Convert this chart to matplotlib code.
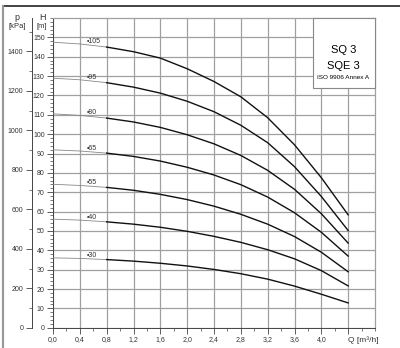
import numpy as np
import matplotlib
matplotlib.use("Agg")
import matplotlib.pyplot as plt
from matplotlib.ticker import MultipleLocator, FixedLocator, FixedFormatter

plt.rcParams['font.family'] = ['Liberation Sans', 'DejaVu Sans']

# flow rate Q [m3/h]
q = [0.0, 0.4, 0.8, 1.2, 1.6, 2.0, 2.4, 2.8, 3.2, 3.6, 4.0, 4.4]

# head H [m], one curve per label
h_105 = [147.5, 146.6, 145.0, 142.6, 139.3, 133.8, 127.2, 119.3, 108.5, 94.5, 77.5, 58.3]
h_95 = [128.9, 128.1, 126.6, 124.3, 121.2, 117.0, 111.6, 104.6, 95.6, 83.2, 67.8, 50.2]
h_80 = [110.5, 109.7, 108.3, 106.3, 103.5, 99.7, 95.0, 89.0, 81.3, 71.5, 58.9, 43.7]
h_65 = [91.9, 91.3, 90.2, 88.5, 86.1, 82.9, 78.9, 73.9, 67.5, 59.4, 49.3, 37.0]
h_55 = [74.1, 73.5, 72.5, 71.0, 68.9, 66.2, 62.8, 58.6, 53.5, 47.1, 39.0, 28.9]
h_40 = [56.1, 55.6, 54.7, 53.5, 51.9, 49.8, 47.2, 44.1, 40.3, 35.6, 29.5, 21.6]
h_30 = [36.1, 35.8, 35.2, 34.4, 33.3, 31.9, 30.1, 27.9, 25.1, 21.5, 17.3, 12.8]

curve_labels = ['105', '95', '80', '65', '55', '40', '30']
curves = [h_105, h_95, h_80, h_65, h_55, h_40, h_30]

x_tick_labels = ['0,0', '0,4', '0,8', '1,2', '1,6', '2,0', '2,4', '2,8',
                 '3,2', '3,6', '4,0', 'Q [m³/h]']

fig = plt.figure(figsize=(4.0, 3.48), dpi=100)
ax = fig.add_axes([0.1325, 0.0583, 0.805, 0.8899])

grid_c = '#a0a0a0'
text_c = '#333333'

ax.set_xlim(0, 4.8)
ax.set_ylim(0, 160)
ax.xaxis.set_major_locator(FixedLocator(q))
ax.xaxis.set_major_formatter(FixedFormatter(x_tick_labels))
ax.xaxis.set_minor_locator(MultipleLocator(0.2))
ax.set_yticks(np.arange(0, 151, 10))
ax.yaxis.set_minor_locator(MultipleLocator(2))
ax.grid(True, which='major', color=grid_c, lw=0.9)
ax.tick_params(which='major', length=4, width=0.6, color='#444', labelsize=5,
               labelcolor=text_c, pad=2)
ax.tick_params(which='minor', length=2, width=0.5, color='#444')
for lab in ax.get_xticklabels():
    if lab.get_text().startswith('Q'):
        lab.set_fontsize(6)
        lab.set_horizontalalignment('left')
for s in ['top', 'right']:
    ax.spines[s].set_color(grid_c)
    ax.spines[s].set_linewidth(0.9)
for s in ['left', 'bottom']:
    ax.spines[s].set_color('#444')
    ax.spines[s].set_linewidth(0.7)

qa = np.array(q)
for name, h in zip(curve_labels, curves):
    ha = np.array(h)
    thin = qa <= 0.8
    ax.plot(qa[thin], ha[thin], color='#888888', lw=0.6, zorder=3)
    ax.plot(qa[qa >= 0.8], ha[qa >= 0.8], color='#111111', lw=1.0, zorder=3,
            solid_joinstyle='round')
    y_lab = np.interp(0.5, qa, ha) + 1.8
    ax.text(0.5, y_lab, '•' + name, fontsize=5, color=text_c,
            ha='left', va='center', zorder=4)

# pressure axis p [kPa]
pax = ax.secondary_yaxis(-0.066, functions=(lambda h: h * 9.81, lambda p: p / 9.81))
pax.set_yticks(np.arange(0, 1401, 200))
pax.yaxis.set_minor_locator(MultipleLocator(100))
pax.tick_params(which='major', length=4, width=0.6, color='#444', labelsize=5,
                labelcolor=text_c, pad=2)
pax.tick_params(which='minor', length=2, width=0.5, color='#444')
pax.spines['left'].set_color('#444')
pax.spines['left'].set_linewidth(0.7)

fig.text(42 / 400, 1 - 18 / 348, 'H', fontsize=6.5, color=text_c, ha='center', va='center')
fig.text(42 / 400, 1 - 26 / 348, '[m]', fontsize=5.5, color=text_c, ha='center', va='center')
fig.text(17 / 400, 1 - 18 / 348, 'p', fontsize=6.5, color=text_c, ha='center', va='center')
fig.text(17 / 400, 1 - 26 / 348, '[kPa]', fontsize=5.5, color=text_c, ha='center', va='center')

# title box
ax.add_patch(plt.Rectangle((3.87, 124), 0.93, 36, transform=ax.transData,
                           facecolor='white', edgecolor='#888888', lw=0.8, zorder=5,
                           clip_on=False))
ax.text(4.33, 143.7, 'SQ 3', fontsize=8, ha='center', va='center', zorder=6)
ax.text(4.33, 135.4, 'SQE 3', fontsize=8, ha='center', va='center', zorder=6)
ax.text(4.33, 129.2, 'ISO 9906 Annex A', fontsize=4.6, ha='center', va='center', zorder=6)

# outer frame lines
fig.add_artist(plt.Line2D([3 / 400, 1], [1 - 5.5 / 348] * 2, color='#222', lw=1.2))
fig.add_artist(plt.Line2D([3 / 400] * 2, [0, 1 - 5.5 / 348], color='#999', lw=1.6))

fig.savefig('out.png', dpi=100)
